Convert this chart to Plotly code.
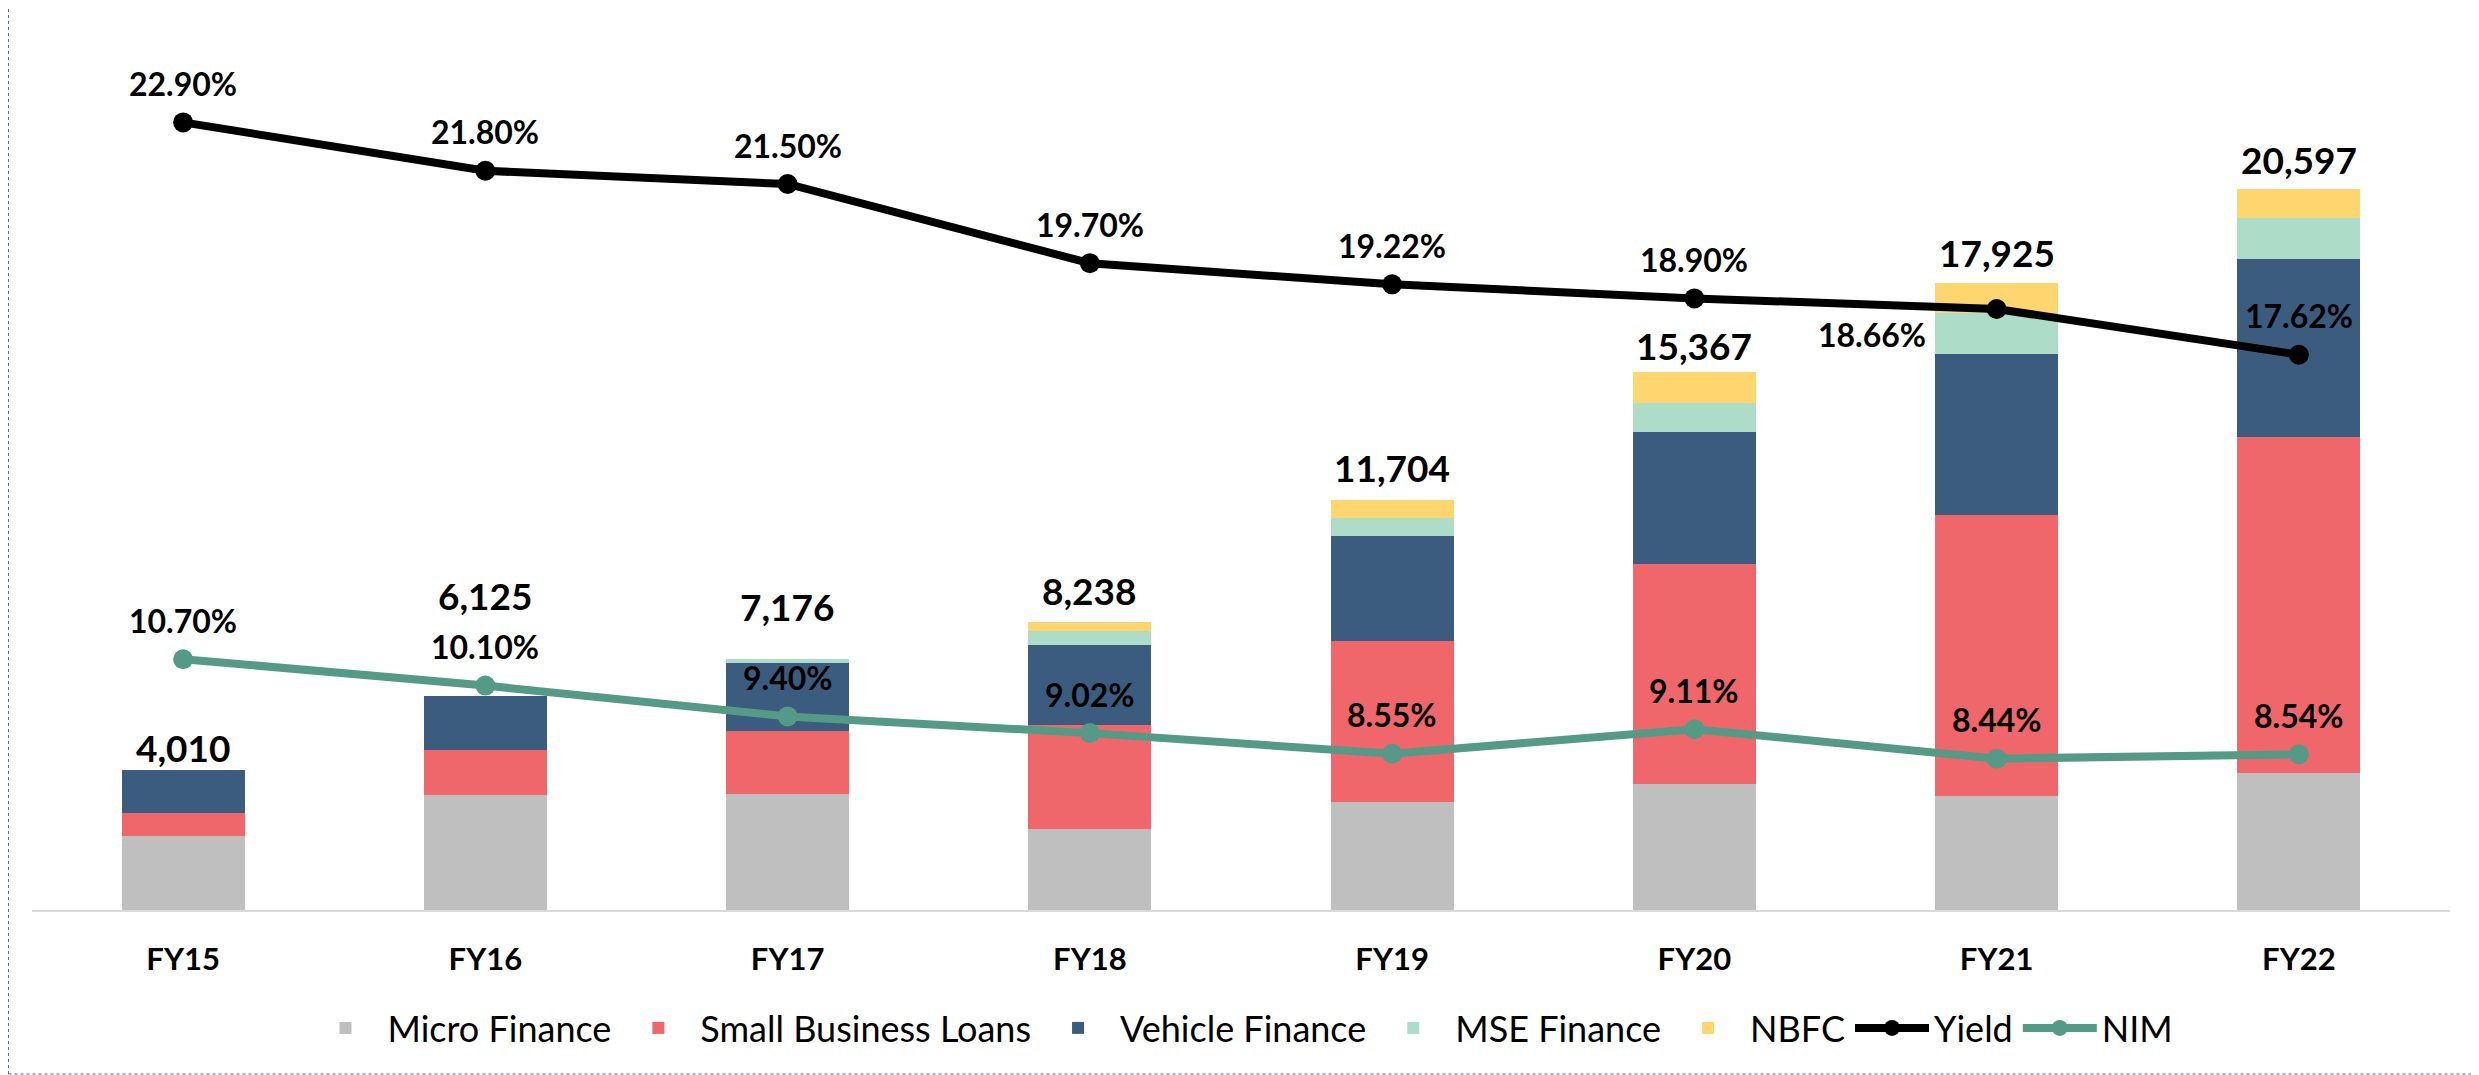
import plotly.graph_objects as go

# ---------------- data ----------------
categories = ["FY15", "FY16", "FY17", "FY18", "FY19", "FY20", "FY21", "FY22"]
micro_finance = [2122, 3281, 3308, 2310, 3074, 3596, 3255, 3922]
small_business_loans = [660, 1304, 1810, 2974, 4604, 6282, 8040, 9580]
vehicle_finance = [1228, 1540, 1935, 2281, 2994, 3778, 4594, 5112]
mse_finance = [0, 0, 123, 413, 524, 828, 1176, 1153]
nbfc = [0, 0, 0, 260, 508, 883, 860, 830]
totals = [4010, 6125, 7176, 8238, 11704, 15367, 17925, 20597]
yield_pct = [22.90, 21.80, 21.50, 19.70, 19.22, 18.90, 18.66, 17.62]
nim_pct = [10.70, 10.10, 9.40, 9.02, 8.55, 9.11, 8.44, 8.54]

# ---------------- style ----------------
FONT = "Lato"
colors = {
    "Micro Finance": "#BFBFBF",
    "Small Business Loans": "#F0676B",
    "Vehicle Finance": "#3B5C7E",
    "MSE Finance": "#ADDCC8",
    "NBFC": "#FED56F",
}
YIELD_COLOR = "#000000"
NIM_COLOR = "#559A86"

total_label_shift = [22, 100, 52, 31, 33, 27, 30, 30]
pct_label_shift = 39

fig = go.Figure()

series = [
    ("Micro Finance", micro_finance),
    ("Small Business Loans", small_business_loans),
    ("Vehicle Finance", vehicle_finance),
    ("MSE Finance", mse_finance),
    ("NBFC", nbfc),
]
for name, vals in series:
    fig.add_trace(go.Bar(
        x=categories, y=vals, name=name,
        marker=dict(color=colors[name], line=dict(width=0)),
        yaxis="y",
    ))

fig.add_trace(go.Scatter(
    x=categories, y=yield_pct, name="Yield", mode="lines+markers",
    line=dict(color=YIELD_COLOR, width=8),
    marker=dict(color=YIELD_COLOR, size=20),
    yaxis="y2",
))
fig.add_trace(go.Scatter(
    x=categories, y=nim_pct, name="NIM", mode="lines+markers",
    line=dict(color=NIM_COLOR, width=8),
    marker=dict(color=NIM_COLOR, size=20),
    yaxis="y2",
))

annotations = []
for i, c in enumerate(categories):
    annotations.append(dict(
        x=c, y=totals[i], xref="x", yref="y", text=f"{totals[i]:,}",
        showarrow=False, yshift=total_label_shift[i],
        font=dict(family=FONT, size=37, color="#000000", weight="bold"),
    ))
    xs, ys = 0, pct_label_shift
    if c == "FY21":
        xs, ys = -125, -26
    annotations.append(dict(
        x=c, y=yield_pct[i], xref="x", yref="y2", text=f"{yield_pct[i]:.2f}%",
        showarrow=False, yshift=ys, xshift=xs,
        font=dict(family=FONT, size=32, color="#000000", weight="bold"),
    ))
    annotations.append(dict(
        x=c, y=nim_pct[i], xref="x", yref="y2", text=f"{nim_pct[i]:.2f}%",
        showarrow=False, yshift=pct_label_shift,
        font=dict(family=FONT, size=32, color="#000000", weight="bold"),
    ))

# The page body has an 8px margin, so the figure is sized/offset to fit it.
W, H = 2471, 1067
L, R, T, B = 24, 29, 22, 165
pw, ph = W - L - R, H - T - B


def px_x(x):
    return (x - L) / pw


def px_y(y):
    return (H - B - y) / ph


BORDER = dict(color="#4A6D92", width=1, dash="dot")
shapes = [
    dict(type="line", xref="paper", yref="paper",
         x0=px_x(0.5), x1=px_x(0.5), y0=px_y(1066), y1=px_y(0), line=BORDER),
    dict(type="line", xref="paper", yref="paper",
         x0=px_x(0.5), x1=px_x(W), y0=px_y(1066), y1=px_y(1066), line=BORDER),
]

fig.update_layout(
    width=W, height=H,
    margin=dict(l=L, r=R, t=T, b=B, pad=0),
    barmode="stack",
    bargap=0.593,
    plot_bgcolor="#FFFFFF",
    paper_bgcolor="#FFFFFF",
    font=dict(family=FONT, color="#000000"),
    xaxis=dict(
        type="category", showgrid=False, zeroline=False,
        showline=True, linecolor="#D9D9D9", linewidth=2,
        ticks="outside", ticklen=0, ticklabelstandoff=21,
        tickfont=dict(family=FONT, size=31, color="#000000", weight="bold"),
    ),
    yaxis=dict(range=[0, 25143], visible=False, showgrid=False, zeroline=False),
    yaxis2=dict(range=[5, 25], overlaying="y", side="right", visible=False,
                showgrid=False, zeroline=False),
    legend=dict(
        orientation="h", x=0.5, xanchor="center", y=px_y(1020), yanchor="middle",
        font=dict(family=FONT, size=36, color="#000000"),
        traceorder="normal", itemwidth=74,
    ),
    showlegend=True,
    annotations=annotations,
    shapes=shapes,
)

fig.write_html("out.html")
